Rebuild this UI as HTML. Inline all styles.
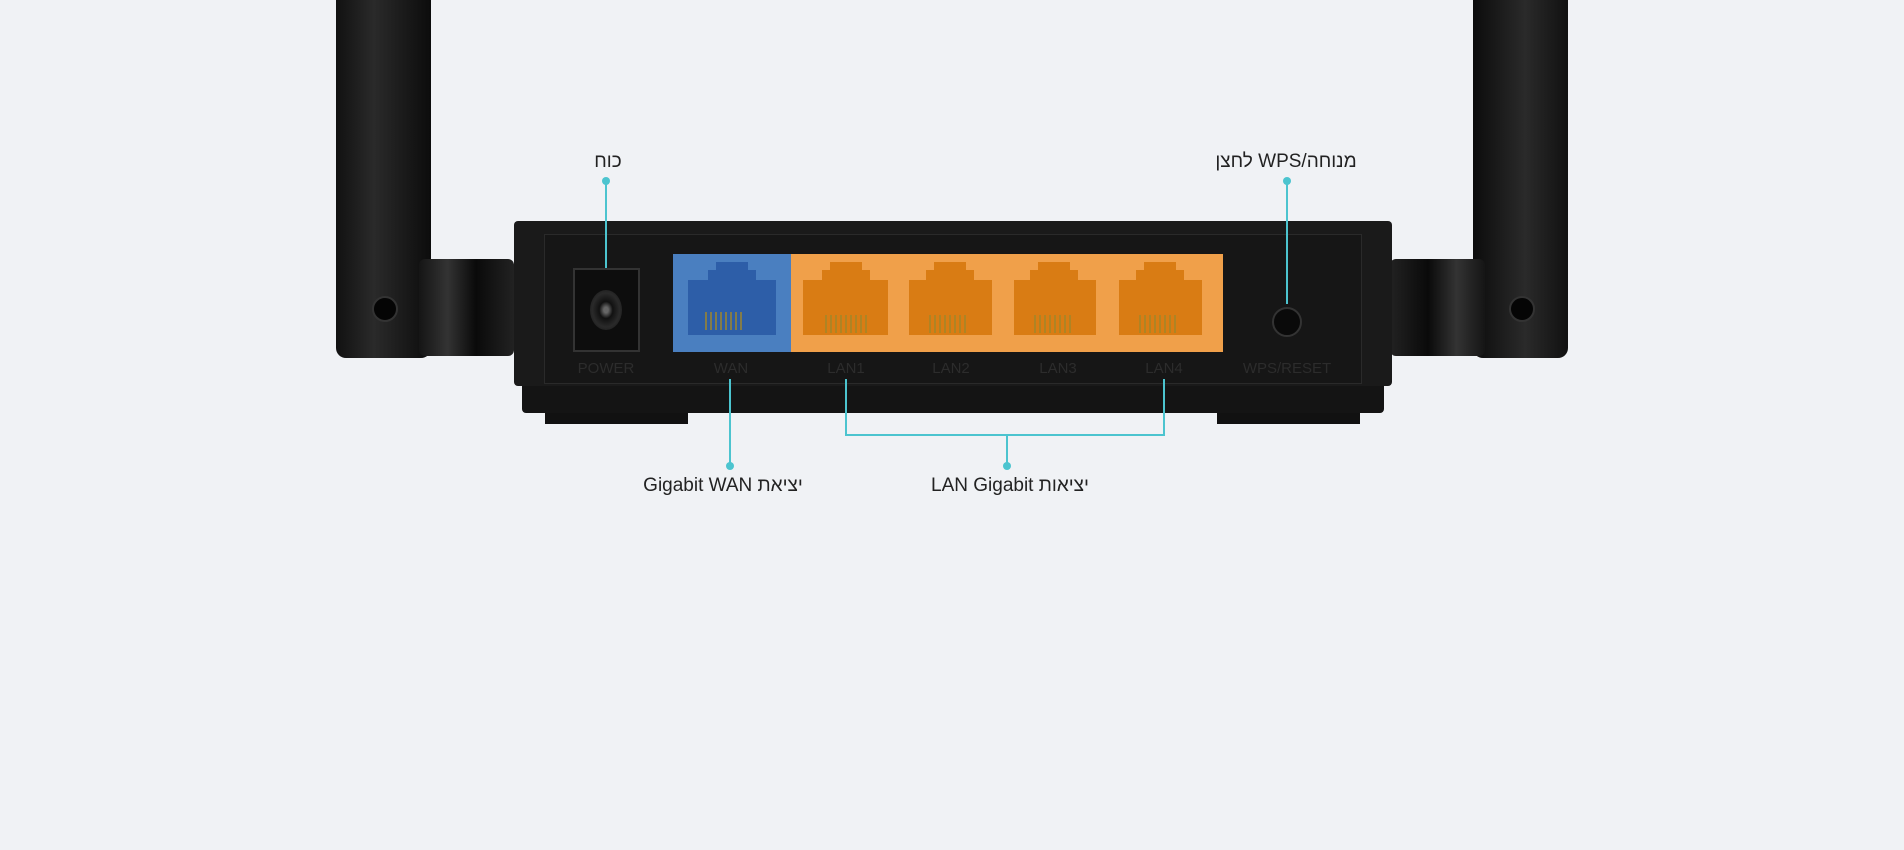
<!DOCTYPE html>
<html><head><meta charset="utf-8"><style>
body{margin:0;width:1904px;height:850px;background:#f0f2f5;overflow:hidden;position:relative;font-family:"Liberation Sans","Noto Sans CJK SC",sans-serif}
.a{position:absolute}
.lbl{position:absolute;font-size:19px;color:#222;white-space:nowrap;transform:translateX(-50%)}
.pl{position:absolute;font-size:15px;color:#2c2c2c;transform:translateX(-50%)}
</style></head><body>
<!-- antennas -->
<div class="a" style="left:336px;top:0;width:95px;height:358px;background:linear-gradient(90deg,#111,#2a2a2a 40%,#0c0c0c);border-radius:0 0 10px 10px"></div>
<div class="a" style="left:1473px;top:0;width:95px;height:358px;background:linear-gradient(90deg,#0c0c0c,#2a2a2a 55%,#111);border-radius:0 0 10px 10px"></div>
<div class="a" style="left:372px;top:296px;width:22px;height:22px;border-radius:50%;background:#050505;border:2px solid #333"></div>
<div class="a" style="left:1509px;top:296px;width:22px;height:22px;border-radius:50%;background:#050505;border:2px solid #333"></div>
<!-- mounts -->
<div class="a" style="left:419px;top:259px;width:95px;height:97px;background:linear-gradient(90deg,#151515,#333 30%,#0a0a0a 60%,#222);border-radius:6px"></div>
<div class="a" style="left:1390px;top:259px;width:95px;height:97px;background:linear-gradient(90deg,#222,#0a0a0a 40%,#333 70%,#151515);border-radius:6px"></div>
<!-- feet -->
<div class="a" style="left:545px;top:405px;width:143px;height:19px;background:#111"></div>
<div class="a" style="left:1217px;top:405px;width:143px;height:19px;background:#111"></div>
<!-- body -->
<div class="a" style="left:522px;top:380px;width:862px;height:33px;background:#141414;border-radius:0 0 4px 4px"></div>
<div class="a" style="left:514px;top:221px;width:878px;height:165px;background:#1a1a1a;border-radius:4px"></div>
<div class="a" style="left:544px;top:234px;width:816px;height:148px;background:#161616;border:1px solid #2a2a2a"></div>
<!-- power -->
<div class="a" style="left:573px;top:268px;width:67px;height:84px;background:#0d0d0d;border:2px solid #333;box-sizing:border-box"></div>
<div class="a" style="left:590px;top:290px;width:32px;height:40px;border-radius:50%;background:radial-gradient(#666 10%,#111 30%,#2a2a2a 60%,#111)"></div>
<!-- ports -->
<div class="a" style="left:673px;top:254px;width:118px;height:98px;background:#4a7fc0"></div>
<div class="a" style="left:791px;top:254px;width:432px;height:98px;background:#f0a04a"></div>
<svg class="a" style="left:0;top:0" width="1904" height="850">
<g fill="#2d5ea8">
<polygon points="688,280 708,280 708,270 716,270 716,262 748,262 748,270 756,270 756,280 776,280 776,335 688,335"/>
</g>
<g fill="#d97c14">
<polygon points="803,280 822,280 822,270 830,270 830,262 862,262 862,270 870,270 870,280 888,280 888,335 803,335"/>
<polygon points="909,280 926,280 926,270 934,270 934,262 966,262 966,270 974,270 974,280 992,280 992,335 909,335"/>
<polygon points="1014,280 1030,280 1030,270 1038,270 1038,262 1070,262 1070,270 1078,270 1078,280 1096,280 1096,335 1014,335"/>
<polygon points="1119,280 1136,280 1136,270 1144,270 1144,262 1176,262 1176,270 1184,270 1184,280 1202,280 1202,335 1119,335"/>
</g>
<g stroke="#a0862a" stroke-width="1.5">
<path d="M706 312v18M711 312v18M716 312v18M721 312v18M726 312v18M731 312v18M736 312v18M741 312v18"/>
<path d="M826 315v18M831 315v18M836 315v18M841 315v18M846 315v18M851 315v18M856 315v18M861 315v18M866 315v18"/>
<path d="M930 315v18M935 315v18M940 315v18M945 315v18M950 315v18M955 315v18M960 315v18M965 315v18"/>
<path d="M1035 315v18M1040 315v18M1045 315v18M1050 315v18M1055 315v18M1060 315v18M1065 315v18M1070 315v18"/>
<path d="M1140 315v18M1145 315v18M1150 315v18M1155 315v18M1160 315v18M1165 315v18M1170 315v18M1175 315v18"/>
</g>
<circle cx="1287" cy="322" r="14" fill="#0a0a0a" stroke="#333" stroke-width="2"/>
<g stroke="#4cc4cf" stroke-width="2" fill="none">
<path d="M606 181V268"/><path d="M1287 181V304"/><path d="M730 379V466"/>
<path d="M846 379V435H1164V379M1007 435V466"/>
</g>
<g fill="#4cc4cf"><circle cx="606" cy="181" r="4"/><circle cx="1287" cy="181" r="4"/><circle cx="730" cy="466" r="4"/><circle cx="1007" cy="466" r="4"/></g>
</svg>
<div class="pl" style="left:606px;top:360px">POWER</div>
<div class="pl" style="left:731px;top:360px">WAN</div>
<div class="pl" style="left:846px;top:360px">LAN1</div>
<div class="pl" style="left:951px;top:360px">LAN2</div>
<div class="pl" style="left:1058px;top:360px">LAN3</div>
<div class="pl" style="left:1164px;top:360px">LAN4</div>
<div class="pl" style="left:1287px;top:360px">WPS/RESET</div>
<div class="lbl" style="left:608px;top:151px" dir="rtl">כוח</div>
<div class="lbl" style="left:1286px;top:151px" dir="rtl">מנוחה/WPS לחצן</div>
<div class="lbl" style="left:723px;top:475px" dir="rtl">יציאת Gigabit WAN</div>
<div class="lbl" style="left:1010px;top:475px" dir="rtl">יציאות LAN Gigabit</div>
</body></html>
